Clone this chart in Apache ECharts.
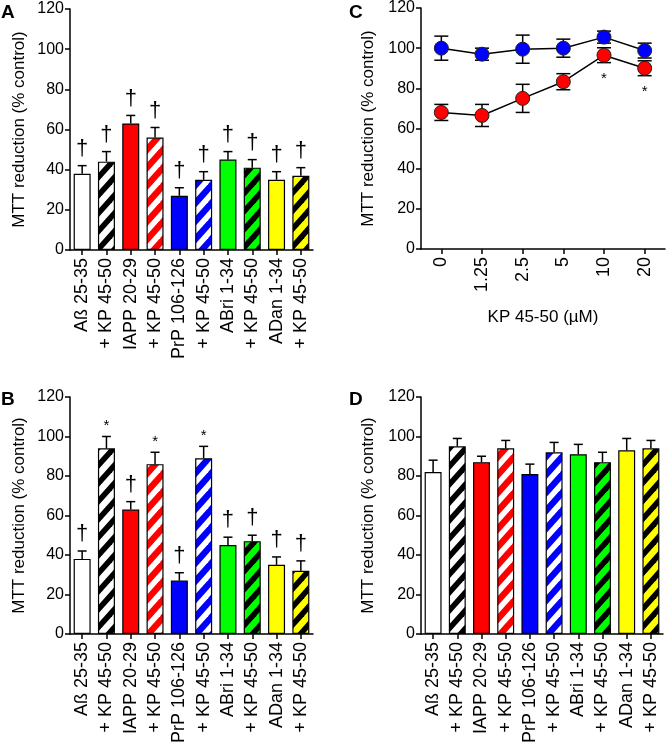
<!DOCTYPE html>
<html>
<head>
<meta charset="utf-8">
<script src="https://cdn.jsdelivr.net/npm/echarts@6/dist/echarts.min.js"></script>
<style>
html,body{margin:0;padding:0;background:#fff;}
#main{width:666px;height:746px;}
</style>
</head>
<body>
<div id="main"></div>
<script>
// categories shared by panels A, B, D
var categories = ['Aß 25-35','+ KP 45-50','IAPP 20-29','+ KP 45-50','PrP 106-126','+ KP 45-50','ABri 1-34','+ KP 45-50','ADan 1-34','+ KP 45-50'];
var barColors = ['#ffffff','#ffffff','#ff0000','#ff0000','#0000ff','#0000ff','#00ff00','#00ff00','#ffff00','#ffff00'];
var stripeColors = [null,'#000000',null,'#ffffff',null,'#ffffff',null,'#000000',null,'#000000'];

// panel A
var meanA = [38,44,63,56,27,35,45,41,35,37];
var errA = [4,5,4,5,4,4,4,4,4,4];
var markA = ['†','†','†','†','†','†','†','†','†','†'];

// panel B
var meanB = [38,94,63,86,27,89,45,47,35,32];
var errB = [4,6,4,6,4,6,4,3,4,5];
var markB = ['†','*','†','*','†','*','†','†','†','†'];

// panel D
var meanD = [82,95,87,94,81,92,91,87,93,94];
var errD = [6,4,3,4,5,5,5,5,6,4];

// panel C
var doses = ['0','1.25','2.5','5','10','20'];
var blueMean = [100,97,99.5,100,105.5,98.8];
var blueErr = [6,3,7,4.5,3,3.7];
var redMean = [68,66.5,75,83.3,96.5,90];
var redErr = [4,5.5,7,4,3.7,3.7];
var redMark = ['','','','','*','*'];

var FONT = 'Liberation Sans, Arial, sans-serif';

function stripes(bg, fg) {
    var w = 16, h = 18;
    var c = document.createElement('canvas');
    c.width = w; c.height = h;
    var ctx = c.getContext('2d');
    ctx.fillStyle = bg;
    ctx.fillRect(0, 0, w, h);
    ctx.strokeStyle = fg;
    ctx.lineWidth = 5.5;
    for (var k = -1; k <= 1; k++) {
        ctx.beginPath();
        ctx.moveTo(k * w - w * 0.5, h * 1.5);
        ctx.lineTo(k * w + w * 1.5, -h * 0.5);
        ctx.stroke();
    }
    return {image: c, repeat: 'repeat'};
}

function barData(means) {
    return means.map(function (m, i) {
        return {
            value: m,
            itemStyle: {
                color: stripeColors[i] ? stripes(barColors[i], stripeColors[i]) : barColors[i],
                borderColor: '#000',
                borderWidth: 1.2
            }
        };
    });
}

function barErr(idx, means, errs, marks) {
    var data = means.map(function (m, i) { return [i, m, m + errs[i]]; });
    return {
        type: 'custom', xAxisIndex: idx, yAxisIndex: idx, z: 5,
        data: data,
        renderItem: function (params, api) {
            var x = api.value(0);
            var p0 = api.coord([x, api.value(1)]);
            var p1 = api.coord([x, api.value(2)]);
            var hw = 4.5;
            var kids = [
                {type: 'line', shape: {x1: p0[0], y1: p0[1], x2: p1[0], y2: p1[1]}, style: {stroke: '#000', lineWidth: 1.5}},
                {type: 'line', shape: {x1: p1[0] - hw, y1: p1[1], x2: p1[0] + hw, y2: p1[1]}, style: {stroke: '#000', lineWidth: 1.5}}
            ];
            var mk = marks ? marks[params.dataIndex] : '';
            if (mk === '†') {
                kids.push({type: 'text', x: p1[0], y: p1[1] - 6, style: {text: mk, fill: '#000', font: '22px ' + FONT, align: 'center', verticalAlign: 'bottom'}});
            } else if (mk === '*') {
                kids.push({type: 'text', x: p1[0], y: p1[1] - 3, style: {text: mk, fill: '#000', font: '15px ' + FONT, align: 'center', verticalAlign: 'bottom'}});
            }
            return {type: 'group', children: kids};
        }
    };
}

function lineErr(means, errs, marks) {
    var data = means.map(function (m, i) { return [i, m - errs[i], m + errs[i]]; });
    return {
        type: 'custom', xAxisIndex: 2, yAxisIndex: 2, z: 1,
        data: data,
        renderItem: function (params, api) {
            var x = api.value(0);
            var lo = api.coord([x, api.value(1)]);
            var hi = api.coord([x, api.value(2)]);
            var hw = 7;
            var st = {stroke: '#000', lineWidth: 1.5};
            var kids = [
                {type: 'line', shape: {x1: lo[0], y1: lo[1], x2: hi[0], y2: hi[1]}, style: st},
                {type: 'line', shape: {x1: hi[0] - hw, y1: hi[1], x2: hi[0] + hw, y2: hi[1]}, style: st},
                {type: 'line', shape: {x1: lo[0] - hw, y1: lo[1], x2: lo[0] + hw, y2: lo[1]}, style: st}
            ];
            var mk = marks ? marks[params.dataIndex] : '';
            if (mk) {
                kids.push({type: 'text', x: lo[0], y: lo[1] + 9, style: {text: mk, fill: '#000', font: '15px ' + FONT, align: 'center', verticalAlign: 'top'}});
            }
            return {type: 'group', children: kids};
        }
    };
}

function yAx(idx, gap) {
    return {
        gridIndex: idx, type: 'value', min: 0, max: 120, interval: 20,
        name: 'MTT reduction (% control)', nameLocation: 'middle', nameGap: gap,
        nameTextStyle: {fontSize: 17, color: '#000', fontFamily: FONT},
        axisLine: {show: true, lineStyle: {color: '#000', width: 1.5}},
        axisTick: {show: true, length: 5, lineStyle: {color: '#000', width: 1.5}},
        axisLabel: {fontSize: 16, color: '#000', fontFamily: FONT, margin: 6},
        splitLine: {show: false}
    };
}

function xAx(idx, data) {
    return {
        gridIndex: idx, type: 'category', data: data, boundaryGap: true,
        axisLine: {show: true, lineStyle: {color: '#000', width: 1.5}},
        axisTick: {show: true, alignWithLabel: true, length: 5, lineStyle: {color: '#000', width: 1.5}},
        axisLabel: {rotate: 90, fontSize: 18, color: '#000', fontFamily: FONT, margin: 8, interval: 0},
        splitLine: {show: false}
    };
}

var xC = xAx(2, doses);
xC.name = 'KP 45-50 (µM)';
xC.nameLocation = 'middle';
xC.nameGap = 60;
xC.nameTextStyle = {fontSize: 17, color: '#000', fontFamily: FONT};

function panelTitle(t, l, tp) {
    return {text: t, left: l, top: tp, padding: 0, textStyle: {fontSize: 19, fontWeight: 'bold', color: '#000', fontFamily: FONT}};
}

var myChart = echarts.init(document.getElementById('main'), null, {renderer: 'canvas'});

var option = {
    animation: false,
    backgroundColor: '#fff',
    title: [panelTitle('A', 1, 3), panelTitle('C', 349, 3), panelTitle('B', 1, 390), panelTitle('D', 349, 390)],
    grid: [
        {left: 70, top: 9, width: 243, height: 241},
        {left: 70, top: 397, width: 243, height: 241},
        {left: 421, top: 8, width: 244, height: 241},
        {left: 421, top: 397, width: 242, height: 241}
    ],
    xAxis: [xAx(0, categories), xAx(1, categories), xC, xAx(3, categories)],
    yAxis: [yAx(0, 42), yAx(1, 42), yAx(2, 44), yAx(3, 44)],
    series: [
        {type: 'bar', xAxisIndex: 0, yAxisIndex: 0, barWidth: '70%', data: barData(meanA)},
        barErr(0, meanA, errA, markA),
        {type: 'bar', xAxisIndex: 1, yAxisIndex: 1, barWidth: '70%', data: barData(meanB)},
        barErr(1, meanB, errB, markB),
        {type: 'bar', xAxisIndex: 3, yAxisIndex: 3, barWidth: '70%', data: barData(meanD)},
        barErr(3, meanD, errD, null),
        lineErr(blueMean, blueErr, null),
        lineErr(redMean, redErr, redMark),
        {type: 'line', xAxisIndex: 2, yAxisIndex: 2, z: 3, data: blueMean, symbol: 'circle', symbolSize: 14,
            lineStyle: {color: '#000', width: 1.5},
            itemStyle: {color: '#0000ff', borderColor: '#222', borderWidth: 1}},
        {type: 'line', xAxisIndex: 2, yAxisIndex: 2, z: 3, data: redMean, symbol: 'circle', symbolSize: 14,
            lineStyle: {color: '#000', width: 1.5},
            itemStyle: {color: '#ff0000', borderColor: '#222', borderWidth: 1}}
    ]
};
myChart.setOption(option);
</script>
</body>
</html>
